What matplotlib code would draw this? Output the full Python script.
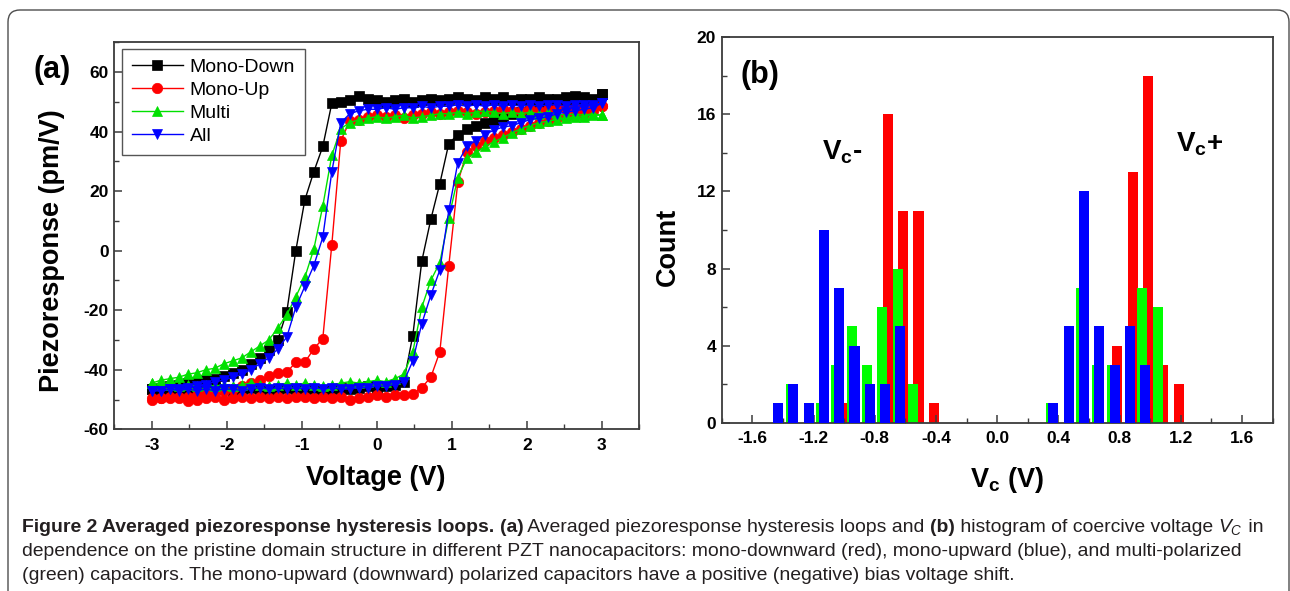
import numpy as np
import matplotlib
import matplotlib.pyplot as plt
from matplotlib.patches import FancyBboxPatch
from matplotlib.transforms import IdentityTransform
from matplotlib.ticker import MultipleLocator, FormatStrFormatter
from matplotlib import font_manager

plt.rcParams['font.family'] = ['Liberation Sans', 'DejaVu Sans']
plt.rcParams['mathtext.fontset'] = 'custom'
plt.rcParams['mathtext.rm'] = 'Liberation Sans'
plt.rcParams['mathtext.bf'] = 'Liberation Sans:bold'
plt.rcParams['mathtext.it'] = 'Liberation Sans:italic'
plt.rcParams['axes.unicode_minus'] = False

W, H = 1290, 591

# === Data, panel (a): averaged hysteresis loops (pm/V), sweep up / sweep down
voltage = [-3.00, -2.88, -2.76, -2.64, -2.52, -2.40, -2.28, -2.16, -2.04, -1.92,
           -1.80, -1.68, -1.56, -1.44, -1.32, -1.20, -1.08, -0.96, -0.84, -0.72,
           -0.60, -0.48, -0.36, -0.24, -0.12, 0.00, 0.12, 0.24, 0.36, 0.48,
           0.60, 0.72, 0.84, 0.96, 1.08, 1.20, 1.32, 1.44, 1.56, 1.68,
           1.80, 1.92, 2.04, 2.16, 2.28, 2.40, 2.52, 2.64, 2.76, 2.88, 3.00]

mono_down_up = [-46.5, -47, -46.5, -47, -46.5, -47, -46.5, -46, -46.5, -47,
                -46.5, -46, -46.5, -47, -46.5, -46, -46.5, -46, -46.5, -47,
                -46.5, -46, -46.5, -46, -45.5, -46, -45.5, -45, -44, -28.5,
                -3.5, 10.5, 22.5, 36, 39, 41, 42, 43, 44, 45,
                46, 46.5, 47, 47.5, 48, 48.5, 49, 49.5, 50, 50.5, 52.5]
mono_down_dn = [-46.5, -46, -45.5, -45, -44.5, -44, -43.5, -43, -42, -41,
                -40, -38, -36, -33.5, -30, -20.5, 0, 17, 26.5, 35,
                49.5, 50, 50.5, 52, 51, 50.5, 50, 50.5, 51, 50,
                50.5, 51, 50.5, 51, 51.5, 51, 50.5, 51.5, 51, 51.5,
                50.5, 51, 51, 51.5, 51, 51, 51.5, 52, 51.5, 51, 52.5]

mono_up_up = [-50, -49.5, -49, -49.5, -50.5, -50, -49.5, -49, -50, -49.5,
              -49, -49.5, -49, -49.5, -49, -49.5, -49, -49, -49.5, -49,
              -49.5, -49, -50, -49.5, -49, -48.5, -49, -48.5, -48.5, -48,
              -46, -42.5, -34, -5, 23, 33, 35, 37, 38, 39,
              40, 41, 42, 43, 43.5, 44.5, 45, 45.5, 46, 47, 48.5]
mono_up_dn = [-49.5, -49.5, -49.5, -49, -49, -48.5, -48, -47.5, -47, -46.5,
              -45.5, -44.5, -43.5, -42, -41, -40.8, -37.5, -37.5, -33, -29.5,
              2, 37, 43.5, 44, 45, 45.5, 45, 45.5, 44.5, 45.5,
              46, 46.5, 46, 46.5, 47, 46.5, 46, 46.5, 47, 47.5,
              47, 47, 47.5, 47, 47.5, 48, 47.5, 48, 48, 48.5, 48.5]

multi_up = [-44.5, -45, -45, -45.5, -45, -45.5, -45, -45.5, -45, -45.5,
            -45, -44.5, -45, -45.5, -45, -44.5, -45, -44.5, -45, -45.5,
            -45, -44.5, -44, -44.5, -44, -43.5, -44, -43, -41.5, -34,
            -19, -10, -4, 11, 24.5, 31, 33, 35, 36.5, 38,
            39.5, 41, 42, 43, 43.5, 44, 44.5, 45, 45, 45.5, 45.5]
multi_dn = [-44.5, -43.5, -43, -42.5, -41.5, -41, -40, -39.5, -38, -37,
            -36, -34, -32, -30, -26, -21.5, -15.5, -9, 0.5, 15,
            32, 41, 43, 44, 44.5, 45, 44.5, 45, 45.5, 44.5,
            45, 45.5, 46, 46, 46.5, 46, 46.5, 47, 46.5, 46,
            46.5, 46, 46.5, 46, 46.5, 46, 45.5, 46, 45.5, 46, 45.5]

all_up = [-47, -47, -46.5, -47, -46.5, -47, -46.5, -47, -46.5, -46.5,
          -47, -46.5, -46, -46.5, -46, -46.5, -46, -46.5, -46, -46.5,
          -46, -46.5, -46.5, -46, -46, -45.5, -45.5, -45, -44, -37,
          -24.5, -15, -6.5, 13.5, 29.5, 35, 37, 39, 40.5, 41.5,
          42, 43, 44, 44.5, 45, 46, 46.5, 47, 47.5, 48, 49.5]
all_dn = [-47, -47, -46.5, -46.5, -46, -45.5, -45, -44, -43.5, -42.5,
          -41.5, -40, -38, -36, -33, -29, -19, -12, -5, 4.5,
          26.5, 43, 46, 47, 47.5, 47.5, 48, 47.5, 48, 48,
          48.5, 48, 48.5, 48.5, 49, 48.5, 49, 48.5, 49, 48.5,
          49, 48.5, 49, 48.5, 49, 49, 48.5, 49, 49, 49, 49.5]

loop_labels = ["Mono-Down", "Mono-Up", "Multi", "All"]

# === Data, panel (b): histogram of coercive voltage (bin centres, V)
bin_centers = [-1.45, -1.35, -1.25, -1.15, -1.05, -0.95, -0.85, -0.75, -0.65, -0.55, -0.45,
               0.35, 0.45, 0.55, 0.65, 0.75, 0.85, 0.95, 1.05, 1.15]
count_red = [0, 0, 0, 0, 1, 0, 0, 16, 11, 11, 1,
             0, 0, 0, 0, 4, 13, 18, 3, 2]
count_green = [0, 2, 0, 1, 3, 5, 3, 6, 8, 2, 0,
               1, 0, 7, 3, 3, 0, 7, 6, 0]
count_blue = [1, 2, 1, 10, 7, 4, 2, 2, 5, 0, 0,
              1, 5, 12, 5, 3, 5, 3, 0, 0]

caption_lines = [
    [("Figure 2 Averaged piezoresponse hysteresis loops.", "bold"), (" ", "normal"),
     ("(a)", "bold"), (" Averaged piezoresponse hysteresis loops and ", "normal"),
     ("(b)", "bold"), (" histogram of coercive voltage ", "normal"),
     (r"$\mathit{V_C}$", "normal"), (" in", "normal")],
    [("dependence on the pristine domain structure in different PZT nanocapacitors: "
      "mono-downward (red), mono-upward (blue), and multi-polarized", "normal")],
    [("(green) capacitors. The mono-upward (downward) polarized capacitors have a "
      "positive (negative) bias voltage shift.", "normal")],
]


def fxy(x, y):
    # pixel position (top-left origin) -> figure fraction
    return x / W, 1 - y / H


fig = plt.figure(figsize=(W / 100, H / 100), dpi=100)

spine_c = "#3c3c3c"

# === Panel (a)
ax = fig.add_axes([114.3 / W, 1 - 429.3 / H, 525 / W, 387 / H])
styles = [("black", "s"), ("#ff0000", "o"), ("#00e000", "^"), ("#0000ff", "v")]
series = [(mono_down_up, mono_down_dn), (mono_up_up, mono_up_dn),
          (multi_up, multi_dn), (all_up, all_dn)]
for (up, dn), (c, m), lab in zip(series, styles, loop_labels):
    x = voltage + voltage[::-1]
    y = up + dn[::-1]
    ax.plot(x, y, color=c, marker=m, ms=7.5, mec=c, mew=0.5, lw=1.0, label=lab)

ax.set_xlim(-3.5, 3.5)
ax.set_ylim(-60, 70)
ax.xaxis.set_major_locator(MultipleLocator(1))
ax.xaxis.set_minor_locator(MultipleLocator(0.5))
ax.yaxis.set_minor_locator(MultipleLocator(10))
ax.set_yticks([-60, -40, -20, 0, 20, 40, 60])
ax.tick_params(which="both", direction="in", top=False, right=False, color=spine_c)
ax.tick_params(which="major", length=6, width=1.1, labelsize=12.5)
ax.tick_params(which="minor", length=3.5, width=1.0)
ax.tick_params(axis="x", pad=6)
ax.tick_params(axis="y", pad=4)
for lbl in ax.get_xticklabels() + ax.get_yticklabels():
    lbl.set_fontweight("bold")
for s in ax.spines.values():
    s.set_color(spine_c)
    s.set_linewidth(1.3)

leg = ax.legend(loc="upper left", bbox_to_anchor=(0.0156, 0.983), borderaxespad=0,
                fancybox=False, edgecolor="#555555", framealpha=1, fontsize=14,
                handlelength=2.6, handletextpad=0.35, labelspacing=0.27,
                borderpad=0.5, numpoints=1)
leg.get_frame().set_linewidth(1.0)

fig.text(*fxy(52, 70), "(a)", fontsize=22, fontweight="bold", ha="center", va="center")
fig.text(*fxy(52, 251), "Piezoresponse (pm/V)", fontsize=19.5, fontweight="bold",
         rotation=90, ha="center", va="center")
fig.text(*fxy(375.7, 485), "Voltage (V)", fontsize=19.5, fontweight="bold",
         ha="center", va="baseline")

# === Panel (b)
bx = fig.add_axes([721.7 / W, 1 - 422.7 / H, 550.8 / W, 385.4 / H])
bc = np.array(bin_centers)
bar_w = 0.066
bx.bar(bc + 0.036, count_red, width=bar_w, color="#ff0000", zorder=1)
bx.bar(bc + 0.0, count_green, width=bar_w, color="#00ff00", zorder=2)
bx.bar(bc + 0.018, count_blue, width=bar_w, color="#0000ff", zorder=3)
bx.set_xlim(-1.8, 1.8)
bx.set_ylim(0, 20)
bx.xaxis.set_major_locator(MultipleLocator(0.4))
bx.xaxis.set_minor_locator(MultipleLocator(0.2))
bx.xaxis.set_major_formatter(FormatStrFormatter("%.1f"))
bx.yaxis.set_major_locator(MultipleLocator(4))
bx.yaxis.set_minor_locator(MultipleLocator(2))
bx.tick_params(which="both", direction="in", top=False, right=False, color=spine_c)
bx.tick_params(which="major", length=6, width=1.1, labelsize=12.5)
bx.tick_params(which="minor", length=3.5, width=1.0)
bx.tick_params(axis="x", pad=6)
bx.tick_params(axis="y", pad=4)
for lbl in bx.get_xticklabels() + bx.get_yticklabels():
    lbl.set_fontweight("bold")
for s in bx.spines.values():
    s.set_color(spine_c)
    s.set_linewidth(1.3)

fig.text(*fxy(759.5, 75), "(b)", fontsize=22, fontweight="bold", ha="center", va="center")
fig.text(*fxy(822, 160), r"$\mathbf{V_c}$-", fontsize=20, fontweight="bold", va="baseline")
fig.text(*fxy(1176, 152), r"$\mathbf{V_c}$+", fontsize=20, fontweight="bold", va="baseline")
fig.text(*fxy(668, 246.5), "Count", fontsize=19.5, fontweight="bold",
         rotation=90, ha="center", va="center")
fig.text(*fxy(1006.5, 487), r"$\mathbf{V_c}$ (V)", fontsize=19.5, fontweight="bold",
         ha="center", va="baseline")

# === Caption
try:
    font_manager.findfont("Liberation Sans Narrow", fallback_to_default=False)
    cap_font = "Liberation Sans Narrow"
except ValueError:
    cap_font = "Liberation Sans"

renderer = fig.canvas.get_renderer()


def draw_line(pieces, x, y, size, keep=True):
    start = x
    made = []
    for txt, weight in pieces:
        t = fig.text(*fxy(x, y), txt, fontsize=size, fontweight=weight, family=cap_font,
                     color="#231f20", va="baseline", ha="left")
        x += t.get_window_extent(renderer).width
        made.append(t)
    if not keep:
        for t in made:
            t.remove()
    return x - start


probe = draw_line(caption_lines[0], 22, 532, 10, keep=False)
cap_size = 10 * 1243 / probe
for i, pieces in enumerate(caption_lines):
    draw_line(pieces, 22, 532 + 24 * i, cap_size)

# rounded frame around the whole figure
frame = FancyBboxPatch((8, -30), 1281, 611, boxstyle="round,pad=0,rounding_size=12",
                       transform=IdentityTransform(), facecolor="none",
                       edgecolor="#4d4d4d", lw=1.0)
fig.add_artist(frame)

fig.savefig("out.png", dpi=100)
